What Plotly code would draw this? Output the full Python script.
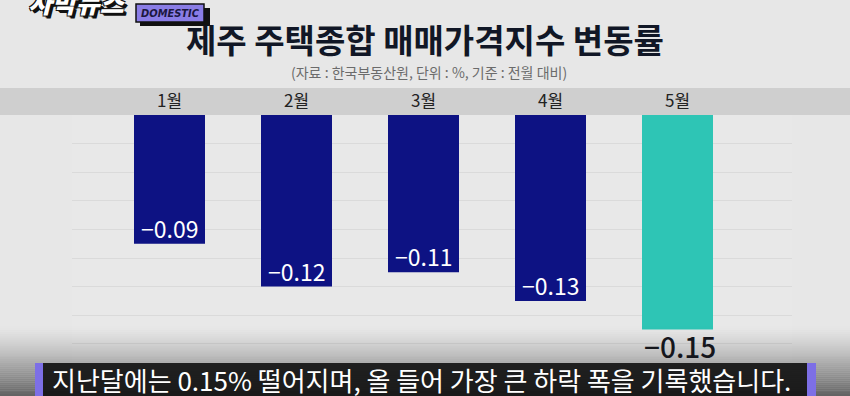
import plotly.graph_objects as go

# ---- data ----
months = ["1월", "2월", "3월", "4월", "5월"]
values = [-0.09, -0.12, -0.11, -0.13, -0.15]
bar_colors = ["#0d1283", "#0d1283", "#0d1283", "#0d1283", "#2ec5b5"]
title_text = "제주 주택종합 매매가격지수 변동률"
source_text = "(자료 : 한국부동산원, 단위 : %, 기준 : 전월 대비)"
caption_text = "지난달에는 0.15% 떨어지며, 올 들어 가장 큰 하락 폭을 기록했습니다."

W, H = 850, 396
ML, MR, MT, MB = 72, 58, 115, 0
PW, PH = W - ML - MR, H - MT - MB

def xp(px):
    return (px - ML) / PW

def yp(py):
    return (H - MB - py) / PH

FONT = "Noto Sans CJK KR"

fig = go.Figure()
fig.add_trace(go.Bar(
    x=months, y=values,
    marker=dict(color=bar_colors, line=dict(width=0)),
    width=0.559,
    hoverinfo="skip",
))

shapes = []
# header band
shapes.append(dict(type="rect", xref="paper", yref="paper",
                   x0=xp(0), x1=xp(W), y0=yp(115), y1=yp(88),
                   fillcolor="#cfcfcf", line=dict(width=0), layer="below"))
# bottom darkening gradient
n = 36
y_start, y_end = 326, 396
for i in range(n):
    a = y_start + (y_end - y_start) * i / n
    b = y_start + (y_end - y_start) * (i + 1) / n
    op = 0.58 * ((i + 0.5) / n) ** 1.3
    shapes.append(dict(type="rect", xref="paper", yref="paper",
                       x0=xp(0), x1=xp(W), y0=yp(b), y1=yp(a),
                       fillcolor="#000000", opacity=op, line=dict(width=0), layer="above"))
# caption box
shapes.append(dict(type="rect", xref="paper", yref="paper",
                   x0=xp(43), x1=xp(807), y0=yp(396), y1=yp(363),
                   fillcolor="#141414", opacity=0.92, line=dict(width=0), layer="above"))
shapes.append(dict(type="rect", xref="paper", yref="paper",
                   x0=xp(35), x1=xp(43), y0=yp(396), y1=yp(363),
                   fillcolor="#7d6fe6", line=dict(width=0), layer="above"))
shapes.append(dict(type="rect", xref="paper", yref="paper",
                   x0=xp(807), x1=xp(816), y0=yp(396), y1=yp(363),
                   fillcolor="#7d6fe6", line=dict(width=0), layer="above"))
# logo DOMESTIC box (shadow + box)
shapes.append(dict(type="rect", xref="paper", yref="paper",
                   x0=xp(140), x1=xp(210), y0=yp(26), y1=yp(8),
                   fillcolor="#111111", line=dict(width=0), layer="above"))
shapes.append(dict(type="rect", xref="paper", yref="paper",
                   x0=xp(136), x1=xp(204), y0=yp(22), y1=yp(4),
                   fillcolor="#8a7de6", line=dict(color="#111111", width=1.5), layer="above"))

annotations = []
# title
annotations.append(dict(xref="paper", yref="paper", x=xp(425), y=yp(39),
                        text=title_text, showarrow=False, xanchor="center", yanchor="middle",
                        font=dict(family=FONT, size=33, color="#111726", weight="bold")))
annotations.append(dict(xref="paper", yref="paper", x=xp(429), y=yp(72),
                        text=source_text, showarrow=False, xanchor="center", yanchor="middle",
                        font=dict(family=FONT, size=14, color="#6b6b6b")))
# logo text
annotations.append(dict(xref="paper", yref="paper", x=xp(26), y=yp(22),
                        text="<i>사박뉴스</i>", showarrow=False, xanchor="left", yanchor="bottom",
                        font=dict(family=FONT, size=26, color="#ffffff", weight=900,
                                  shadow="2px 2px 0 #111, 3px 3px 0 #111, -1px -1px 0 #111, 1px -1px 0 #111, -1px 1px 0 #111")))
annotations.append(dict(xref="paper", yref="paper", x=xp(170), y=yp(13),
                        text="<b><i>DOMESTIC</i></b>", showarrow=False, xanchor="center", yanchor="middle",
                        font=dict(family="DejaVu Sans Condensed", size=11, color="#1b1740")))
# value labels
for i, (m, v) in enumerate(zip(months, values)):
    label = "\u2212" + f"{abs(v):.2f}"
    if i < len(months) - 1:
        annotations.append(dict(x=m, y=v, xref="x", yref="y", text=label, showarrow=False,
                                xanchor="center", yanchor="middle", yshift=16,
                                font=dict(family=FONT, size=23, color="#ffffff")))
    else:
        annotations.append(dict(x=m, y=v, xref="x", yref="y", text=label, showarrow=False,
                                xanchor="center", yanchor="middle", yshift=-16, xshift=2,
                                font=dict(family=FONT, size=28, color="#15161c", weight=500)))
# caption
annotations.append(dict(xref="paper", yref="paper", x=xp(421), y=yp(379),
                        text=caption_text, showarrow=False, xanchor="center", yanchor="middle",
                        borderpad=0,
                        font=dict(family=FONT, size=26, color="#ffffff")))

cat_lo = -(169.5 - ML) / 127.0
fig.update_layout(
    width=W, height=H,
    margin=dict(l=ML, r=MR, t=MT, b=MB, pad=0),
    paper_bgcolor="#e7e7e7", plot_bgcolor="#e8e8e8",
    showlegend=False,
    xaxis=dict(type="category", side="top", range=[cat_lo, cat_lo + PW / 127.0],
               showgrid=False, zeroline=False, showline=False, ticks="",
               ticklabelstandoff=4,
               tickfont=dict(family=FONT, size=17, color="#222222"), fixedrange=True),
    yaxis=dict(range=[-PH / 1430.0, 0], dtick=0.02, tick0=0, showgrid=True,
               gridcolor="#dadada", gridwidth=1, zeroline=False, showline=False,
               showticklabels=False, ticks="", fixedrange=True),
    shapes=shapes, annotations=annotations,
    font=dict(family=FONT),
)

fig.write_html("out.html", config={"displayModeBar": False},
               post_script="document.body.style.margin='0';document.body.style.overflow='hidden';")
